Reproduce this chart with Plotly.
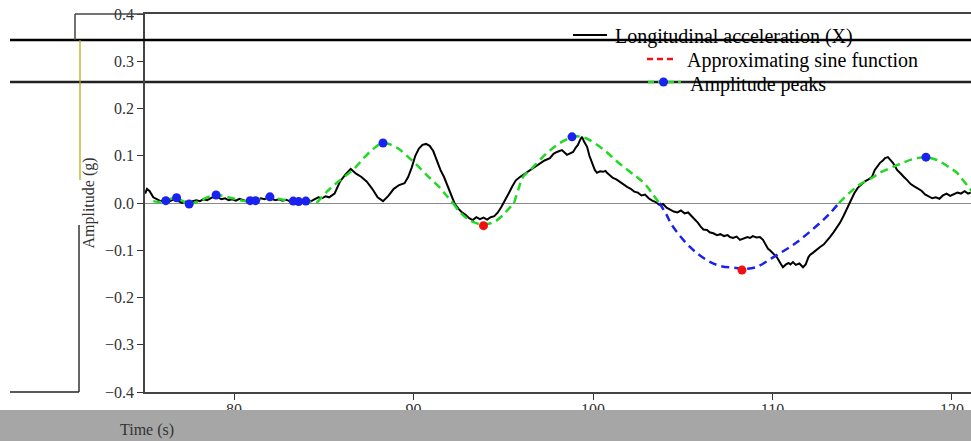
import plotly.graph_objects as go

# ---------------- data ----------------
acc_t = [75.05, 75.15, 75.3, 75.5, 75.7, 75.9, 76.1, 76.3, 76.5, 76.7, 76.9, 77.1, 77.3, 77.5, 77.7, 77.9,
         78.1, 78.3, 78.5, 78.7, 78.9, 79.1, 79.3, 79.5, 79.7, 79.9, 80.1, 80.3, 80.5, 80.7, 80.9, 81.1,
         81.3, 81.5, 81.7, 81.9, 82.1, 82.3, 82.5, 82.7, 82.9, 83.1, 83.3, 83.5, 83.7, 83.9, 84.1, 84.3,
         84.5, 84.7, 84.9, 85.1, 85.3, 85.6, 85.9, 86.2, 86.5, 86.8, 87.1, 87.4, 87.7, 88.0, 88.3, 88.6,
         88.9, 89.2, 89.5, 89.7, 89.9, 90.1, 90.3, 90.5, 90.7, 90.9, 91.1, 91.3, 91.5, 91.7, 91.9, 92.1,
         92.3, 92.5, 92.7, 92.9, 93.1, 93.3, 93.5, 93.7, 93.9, 94.1, 94.3, 94.5, 94.7, 94.9, 95.1, 95.3,
         95.5, 95.7, 95.93, 96.2, 96.49, 96.8, 97.05, 97.3, 97.6, 97.8, 97.99, 98.27, 98.55, 98.75, 98.89,
         99.05, 99.16, 99.3, 99.39, 99.5, 99.67, 99.8, 99.94, 100.1, 100.22, 100.4, 100.56, 100.7, 100.78,
         100.95, 101.11, 101.3, 101.5, 101.7, 101.9, 102.1, 102.3, 102.5, 102.7, 102.9, 103.1, 103.3,
         103.5, 103.7, 103.9, 104.1, 104.3, 104.5, 104.7, 104.9, 105.1, 105.3, 105.5, 105.7, 105.85,
         106.0, 106.15, 106.35, 106.5, 106.7, 106.91, 107.1, 107.3, 107.5, 107.63, 107.8, 108.0, 108.19,
         108.4, 108.6, 108.75, 108.9, 109.1, 109.3, 109.47, 109.6, 109.75, 109.86, 110.0, 110.25, 110.45,
         110.58, 110.75, 110.9, 111.0, 111.14, 111.3, 111.5, 111.7, 111.85, 112.0, 112.09, 112.3, 112.5,
         112.65, 112.85, 113.0, 113.2, 113.4, 113.6, 113.76, 113.95, 114.15, 114.35, 114.55, 114.75,
         114.95, 115.15, 115.35, 115.54, 115.7, 115.85, 115.99, 116.15, 116.27, 116.43, 116.6, 116.71,
         116.85, 116.94, 117.1, 117.21, 117.35, 117.49, 117.7, 117.9, 118.1, 118.3, 118.5, 118.7, 118.9,
         119.1, 119.3, 119.5, 119.7, 119.9, 120.1, 120.3, 120.5, 120.7, 120.9, 121.05]
acc_g = [0.02, 0.03, 0.025, 0.012, 0.008, 0.004, 0.006, 0.002, 0.005, 0.009, 0.004, 0.0, 0.003, -0.002, 0.004, 0.006,
         0.004, 0.008, 0.006, 0.01, 0.014, 0.012, 0.008, 0.01, 0.006, 0.008, 0.005, 0.009, 0.006, 0.004, 0.007, 0.003,
         0.006, 0.01, 0.008, 0.012, 0.009, 0.006, 0.008, 0.005, 0.007, 0.004, 0.006, 0.002, 0.005, 0.003, 0.006, 0.004,
         0.008, 0.012, 0.01, 0.014, 0.012, 0.02, 0.045, 0.06, 0.072, 0.062, 0.055, 0.045, 0.03, 0.012, 0.004, 0.015,
         0.03, 0.038, 0.042, 0.055, 0.075, 0.1, 0.115, 0.123, 0.125, 0.121, 0.11, 0.09, 0.07, 0.055, 0.035, 0.015,
         -0.002, -0.012, -0.02, -0.025, -0.032, -0.036, -0.03, -0.034, -0.031, -0.035, -0.03, -0.028, -0.02, -0.008, 0.005, 0.02,
         0.035, 0.048, 0.055, 0.062, 0.07, 0.078, 0.085, 0.09, 0.095, 0.104, 0.108, 0.112, 0.102, 0.105, 0.108,
         0.118, 0.123, 0.135, 0.14, 0.13, 0.119, 0.1, 0.085, 0.07, 0.064, 0.067, 0.066, 0.068, 0.064,
         0.058, 0.053, 0.05, 0.044, 0.04, 0.034, 0.03, 0.024, 0.022, 0.016, 0.018, 0.01, 0.005,
         0.002, -0.004, -0.002, -0.01, -0.014, -0.018, -0.02, -0.016, -0.022, -0.02, -0.028, -0.035, -0.042,
         -0.05, -0.056, -0.057, -0.062, -0.064, -0.068, -0.066, -0.07, -0.068, -0.072, -0.074, -0.071, -0.078,
         -0.075, -0.072, -0.074, -0.07, -0.073, -0.072, -0.078, -0.088, -0.097, -0.1, -0.106, -0.115, -0.128,
         -0.136, -0.13, -0.127, -0.13, -0.125, -0.131, -0.128, -0.136, -0.13, -0.115, -0.11, -0.104, -0.097,
         -0.093, -0.088, -0.08, -0.072, -0.062, -0.052, -0.042, -0.028, -0.012, 0.002, 0.02, 0.032,
         0.04, 0.046, 0.05, 0.055, 0.07, 0.078, 0.085, 0.09, 0.095, 0.097, 0.09, 0.085,
         0.076, 0.07, 0.064, 0.059, 0.054, 0.049, 0.04, 0.035, 0.03, 0.026, 0.018, 0.014, 0.01,
         0.012, 0.009, 0.016, 0.02, 0.015, 0.018, 0.022, 0.02, 0.025, 0.02, 0.022]

# approximating sine function, one half-cycle per segment
sine_low_t = [75.5, 75.9, 76.2, 76.5, 76.8, 77.15, 77.5, 78.2, 79.0, 79.9, 80.6, 80.9, 81.05, 81.2, 81.6,
              82.0, 82.6, 83.3, 83.45, 83.6, 83.8, 84.0, 84.6]
sine_low_g = [0.004, 0.002, 0.005, 0.009, 0.011, 0.004, -0.002, 0.007, 0.017, 0.01, 0.004, 0.005, 0.006, 0.005, 0.01,
              0.013, 0.008, 0.004, 0.003, 0.003, 0.004, 0.004, 0.0]
sine_b_t = [84.6, 85.2, 85.7, 86.3, 86.8, 87.3, 87.74, 88.3, 89.08, 89.8, 90.36, 90.9, 91.4, 91.9, 92.2]
sine_b_g = [0.0, 0.025, 0.042, 0.06, 0.077, 0.098, 0.114, 0.127, 0.117, 0.094, 0.074, 0.053, 0.035, 0.013, 0.0]
sine_c_t = [92.2, 92.6, 93.1, 93.6, 94.0, 94.5, 95.0, 95.4, 95.6]
sine_c_g = [0.0, -0.02, -0.036, -0.044, -0.045, -0.04, -0.025, -0.008, 0.0]
sine_d_t = [95.6, 95.85, 96.1, 96.66, 97.44, 98.16, 98.83, 99.2, 99.67, 100.56, 101.34, 102.06, 102.45, 102.9, 103.3, 103.7]
sine_d_g = [0.0, 0.03, 0.055, 0.076, 0.106, 0.127, 0.139, 0.141, 0.136, 0.114, 0.088, 0.066, 0.055, 0.04, 0.02, 0.0]
sine_e_t = [103.7, 104.1, 104.4, 105.4, 106.35, 107.07, 108.19, 108.6, 109.14, 110.03, 110.97, 111.53, 112.65, 113.2, 113.7]
sine_e_g = [0.0, -0.025, -0.047, -0.093, -0.121, -0.133, -0.138, -0.139, -0.135, -0.115, -0.093, -0.078, -0.042, -0.022, 0.0]
sine_f_t = [113.7, 114.3, 114.9, 115.54, 115.99, 116.94, 117.83, 118.55, 119.16, 119.9, 120.28, 120.45, 120.9, 121.2]
sine_f_g = [0.0, 0.022, 0.04, 0.053, 0.064, 0.08, 0.093, 0.097, 0.091, 0.074, 0.064, 0.056, 0.035, 0.02]

peak_pos_t = [76.2, 76.8, 77.5, 79.0, 80.9, 81.2, 82.0, 83.3, 83.6, 84.0, 88.3, 98.83, 118.55]
peak_pos_g = [0.005, 0.011, -0.002, 0.017, 0.005, 0.005, 0.013, 0.004, 0.003, 0.004, 0.127, 0.14, 0.097]
peak_neg_t = [93.9, 108.3]
peak_neg_g = [-0.048, -0.142]

y_ticks = [-0.4, -0.3, -0.2, -0.1, 0.0, 0.1, 0.2, 0.3, 0.4]
x_ticks = [80, 90, 100, 110, 120]

legend_names = ["Longitudinal acceleration (X)", "Approximating sine function", "Amplitude peaks"]

# ---------------- styling ----------------
GREEN = "#22d822"
BLUE = "#1a22f0"
RED = "#f01010"
FONT = "Liberation Serif"
DASH = "8px,5px"

W, H = 971, 441
ML, MR, MT, MB = 145, 0, 14, 49
PW, PH = W - ML - MR, H - MT - MB


def px(xp):
    return (xp - ML) / PW


def py(yp):
    return (H - MB - yp) / PH


fig = go.Figure()

fig.add_trace(go.Scatter(x=acc_t, y=acc_g, mode="lines", line=dict(color="black", width=2),
                         name=legend_names[0], showlegend=False, hoverinfo="skip"))

segments = [(sine_low_t, sine_low_g, GREEN), (sine_b_t, sine_b_g, GREEN), (sine_c_t, sine_c_g, GREEN),
            (sine_d_t, sine_d_g, GREEN), (sine_e_t, sine_e_g, BLUE), (sine_f_t, sine_f_g, GREEN)]
for st, sg, col in segments:
    fig.add_trace(go.Scatter(x=st, y=sg, mode="lines", name=legend_names[1],
                             line=dict(color=col, width=2.5, dash=DASH, shape="spline"),
                             showlegend=False, hoverinfo="skip"))

fig.add_trace(go.Scatter(x=peak_pos_t, y=peak_pos_g, mode="markers", name=legend_names[2],
                         marker=dict(color=BLUE, size=9), showlegend=False))
fig.add_trace(go.Scatter(x=peak_neg_t, y=peak_neg_g, mode="markers", name=legend_names[2],
                         marker=dict(color=RED, size=9), showlegend=False))

axis_common = dict(showgrid=False, ticks="outside", ticklen=6, tickwidth=1.2, tickcolor="#333",
                   showline=True, linecolor="#444", linewidth=1.5,
                   tickfont=dict(family=FONT, size=16, color="#333"))

fig.update_layout(
    width=W, height=H,
    margin=dict(l=ML, r=MR, t=MT, b=MB),
    paper_bgcolor="white", plot_bgcolor="white",
    font=dict(family=FONT, size=16, color="black"),
    xaxis=dict(range=[75.04, 121.06], tickvals=x_ticks, mirror=True, zeroline=False, **axis_common),
    yaxis=dict(range=[-0.4, 0.4], tickvals=y_ticks, tickformat=".1f", zeroline=True,
               zerolinecolor="#8a8a8a", zerolinewidth=1,
               title=dict(text="Amplitude (g)", font=dict(family=FONT, size=16, color="#333"), standoff=6),
               **axis_common),
    showlegend=False,
)
try:
    fig.update_xaxes(ticklabelstandoff=-4)
except Exception:
    pass

# hand-drawn legend (positions as in the picture)
LEG_FONT = dict(family=FONT, size=20, color="black")
legend_rows = [
    # (sample x0, sample x1, row y, text x)
    (573, 607, 35, 613),
    (647, 677, 59, 685),
    (648, 681, 82, 688),
]
shapes = []
annotations = []
for i, (sx0, sx1, ry, tx) in enumerate(legend_rows):
    if i == 0:
        shapes.append(dict(type="line", xref="paper", yref="paper", x0=px(sx0), x1=px(sx1), y0=py(ry), y1=py(ry),
                           line=dict(color="black", width=2)))
    elif i == 1:
        shapes.append(dict(type="line", xref="paper", yref="paper", x0=px(sx0), x1=px(sx1), y0=py(ry), y1=py(ry),
                           line=dict(color=RED, width=2.5, dash="6px,4px")))
    else:
        shapes.append(dict(type="line", xref="paper", yref="paper", x0=px(sx0), x1=px(sx1), y0=py(ry), y1=py(ry),
                           line=dict(color=GREEN, width=2.5, dash="6px,4px")))
        cx = (sx0 + sx1) / 2 - 1
        shapes.append(dict(type="circle", xref="paper", yref="paper", x0=px(cx - 4.5), x1=px(cx + 4.5),
                           y0=py(ry + 4.5), y1=py(ry - 4.5), fillcolor=BLUE, line=dict(width=0)))
    annotations.append(dict(text=legend_names[i], xref="paper", yref="paper", x=px(tx), y=py(ry + 2),
                            xanchor="left", yanchor="middle", showarrow=False, font=LEG_FONT))

# artefact strips / frame pieces visible in the picture
shapes += [
    dict(type="rect", xref="paper", yref="paper", x0=px(0), x1=1.0, y0=py(410), y1=py(441),
         fillcolor="#a6a6a6", line=dict(width=0), layer="above"),
    dict(type="line", xref="paper", yref="paper", x0=px(10), x1=1.0, y0=py(40), y1=py(40),
         line=dict(color="black", width=2.5), layer="above"),
    dict(type="line", xref="paper", yref="paper", x0=px(10), x1=1.0, y0=py(82), y1=py(82),
         line=dict(color="#222", width=2.5), layer="below"),
    dict(type="line", xref="paper", yref="paper", x0=px(75), x1=px(145), y0=py(14), y1=py(14),
         line=dict(color="#444", width=1.5), layer="above"),
    dict(type="line", xref="paper", yref="paper", x0=px(75), x1=px(75), y0=py(14), y1=py(40),
         line=dict(color="#444", width=1.5), layer="above"),
    dict(type="line", xref="paper", yref="paper", x0=px(80), x1=px(80), y0=py(40), y1=py(180),
         line=dict(color="#b8a800", width=1.2), layer="above"),
    dict(type="line", xref="paper", yref="paper", x0=px(79), x1=px(79), y0=py(225), y1=py(392),
         line=dict(color="#333", width=1.5), layer="above"),
    dict(type="line", xref="paper", yref="paper", x0=px(10), x1=px(79), y0=py(392), y1=py(392),
         line=dict(color="#222", width=1.5), layer="above"),
]
annotations.append(dict(text="Time (s)", xref="paper", yref="paper", x=px(147), y=py(430),
                        xanchor="center", yanchor="middle", showarrow=False,
                        font=dict(family=FONT, size=16, color="#333")))

fig.update_layout(shapes=shapes, annotations=annotations)

fig.write_html("out.html")
